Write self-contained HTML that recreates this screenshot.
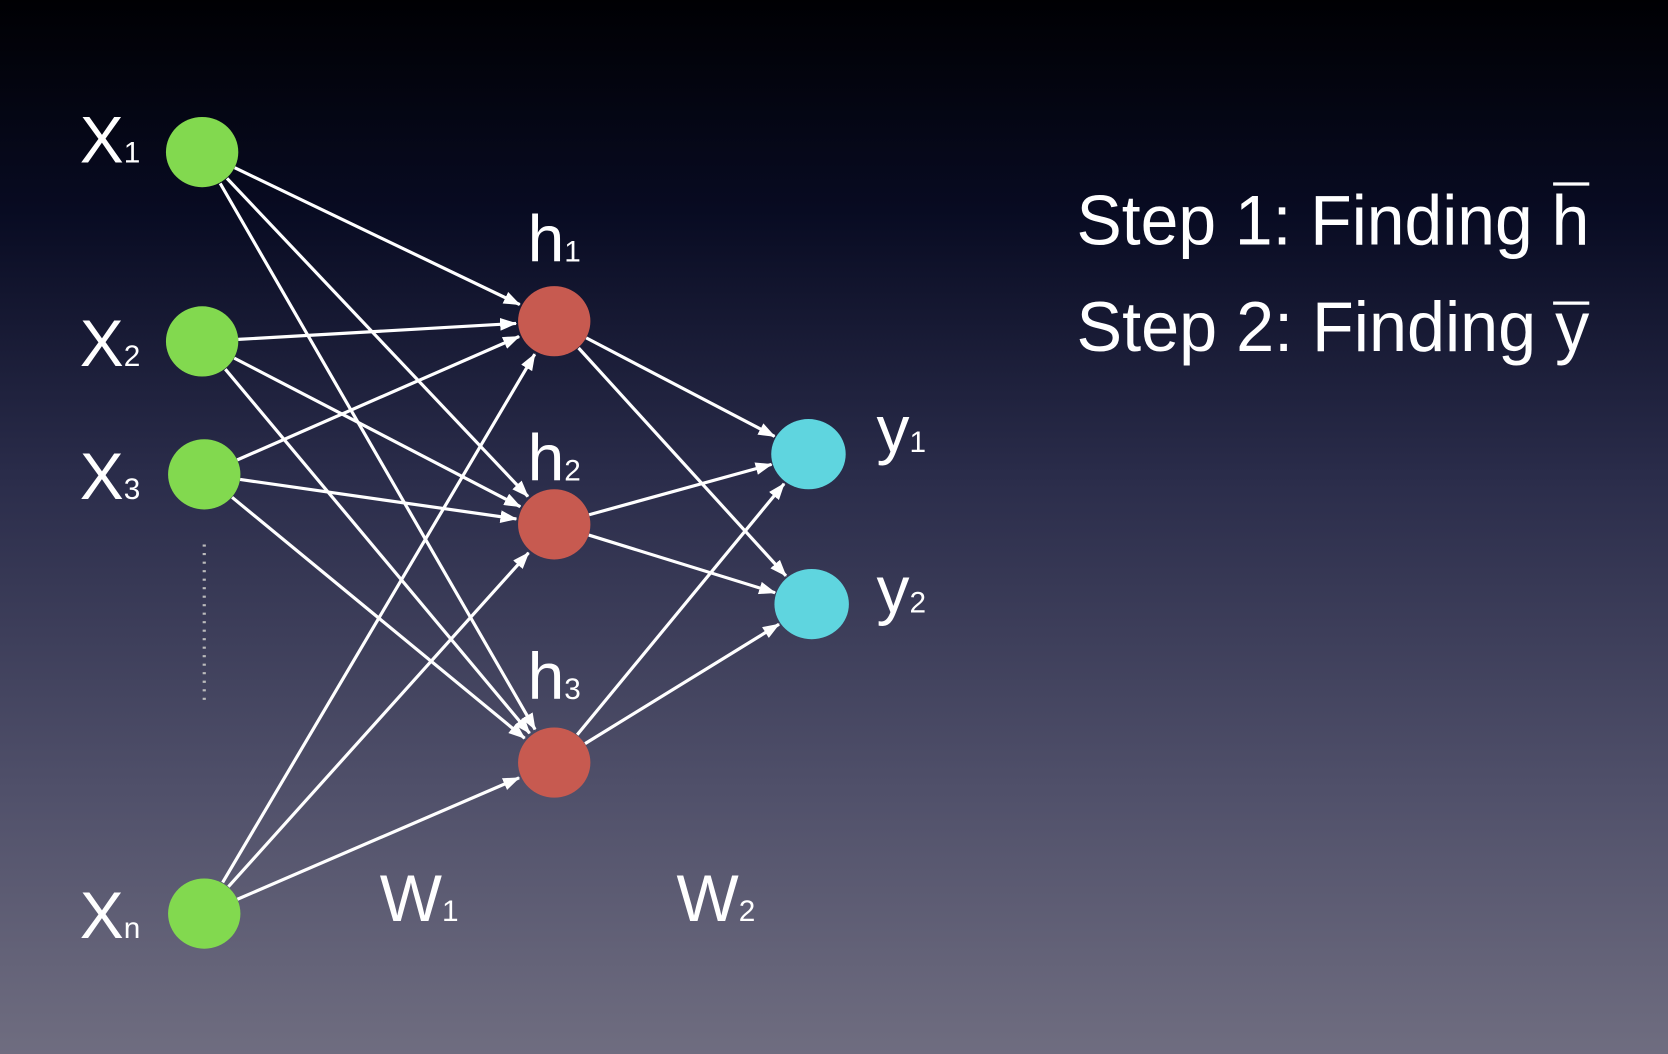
<!DOCTYPE html>
<html><head><meta charset="utf-8"><style>
html,body{margin:0;padding:0;width:1668px;height:1054px;overflow:hidden;}
svg{display:block}
text{font-family:"Liberation Sans",sans-serif;fill:#fff;}
</style></head><body>
<svg width="1668" height="1054" viewBox="0 0 1568 991" preserveAspectRatio="none" xmlns="http://www.w3.org/2000/svg">
<defs>
<linearGradient id="bg" x1="0" y1="0" x2="0" y2="1">
<stop offset="0" stop-color="#000003"/>
<stop offset="0.2" stop-color="#080b22"/>
<stop offset="0.45" stop-color="#2a2c4a"/>
<stop offset="0.75" stop-color="#50506a"/>
<stop offset="1" stop-color="#6f6d80"/>
</linearGradient>
<marker id="a" markerUnits="userSpaceOnUse" markerWidth="16" markerHeight="12" refX="15" refY="6" orient="auto">
<path d="M0,0 L16,6 L0,12 Z" fill="#fff"/>
</marker>
</defs>
<rect width="1568" height="991" fill="url(#bg)"/>
<g stroke="#fff" stroke-width="3" marker-end="url(#a)">
<line x1="220.6" y1="157.7" x2="488.6" y2="286.4"/>
<line x1="213.4" y1="167.7" x2="496.3" y2="466.8"/>
<line x1="207" y1="172.4" x2="503" y2="685.8"/>
<line x1="223.9" y1="319.1" x2="485.1" y2="304.1"/>
<line x1="220.2" y1="336.7" x2="489.1" y2="476.4"/>
<line x1="211.8" y1="347.1" x2="497.9" y2="689.4"/>
<line x1="223.1" y1="432.4" x2="488" y2="316.4"/>
<line x1="225.7" y1="450.8" x2="485.4" y2="487.9"/>
<line x1="218.2" y1="467.6" x2="493.2" y2="694.1"/>
<line x1="209.3" y1="829.7" x2="502.7" y2="333"/>
<line x1="214.7" y1="833.7" x2="496.9" y2="519.8"/>
<line x1="223.2" y1="845.5" x2="488" y2="731.3"/>
<line x1="551.1" y1="317.7" x2="728.1" y2="410.3"/>
<line x1="543.9" y1="327.2" x2="738.8" y2="541.4"/>
<line x1="553.8" y1="484" x2="725.3" y2="436.6"/>
<line x1="553.5" y1="503.1" x2="728.6" y2="557.3"/>
<line x1="542.6" y1="690.8" x2="737.1" y2="454.8"/>
<line x1="550" y1="699.2" x2="732.3" y2="586.9"/>
</g>
<line x1="192" y1="512" x2="192" y2="664" stroke="#bbb" stroke-width="3" stroke-dasharray="2 6"/>
<g fill="#82d94f">
<ellipse cx="190" cy="143" rx="34" ry="33"/>
<ellipse cx="190" cy="321" rx="34" ry="33"/>
<ellipse cx="192" cy="446" rx="34" ry="33"/>
<ellipse cx="192" cy="859" rx="34" ry="33"/>
</g>
<g fill="#c75a50">
<ellipse cx="521" cy="302" rx="34" ry="33"/>
<ellipse cx="521" cy="493" rx="34" ry="33"/>
<ellipse cx="521" cy="717" rx="34" ry="33"/>
</g>
<g fill="#5fd5df">
<ellipse cx="760" cy="427" rx="35" ry="33"/>
<ellipse cx="763" cy="568" rx="35" ry="33"/>
</g>
<g font-size="62">
<text x="75" y="153">X<tspan font-size="28">1</tspan></text>
<text x="75" y="344">X<tspan font-size="28">2</tspan></text>
<text x="75" y="469">X<tspan font-size="28">3</tspan></text>
<text x="75" y="882">X<tspan font-size="28">n</tspan></text>
<text x="496" y="246">h<tspan font-size="28">1</tspan></text>
<text x="496" y="452">h<tspan font-size="28">2</tspan></text>
<text x="496" y="657">h<tspan font-size="28">3</tspan></text>
<text x="824" y="425">y<tspan font-size="28">1</tspan></text>
<text x="824" y="576">y<tspan font-size="28">2</tspan></text>
<text x="357" y="866">W<tspan font-size="28">1</tspan></text>
<text x="636" y="866">W<tspan font-size="28">2</tspan></text>
</g>
<g font-size="66">
<text x="1012" y="230" textLength="482" lengthAdjust="spacingAndGlyphs">Step 1: Finding h</text>
<text x="1012" y="330" textLength="482" lengthAdjust="spacingAndGlyphs">Step 2: Finding y</text>
</g>
<line x1="1460" y1="173" x2="1494" y2="173" stroke="#fff" stroke-width="3"/>
<line x1="1460" y1="285" x2="1494" y2="285" stroke="#fff" stroke-width="3"/>
</svg>
</body></html>
